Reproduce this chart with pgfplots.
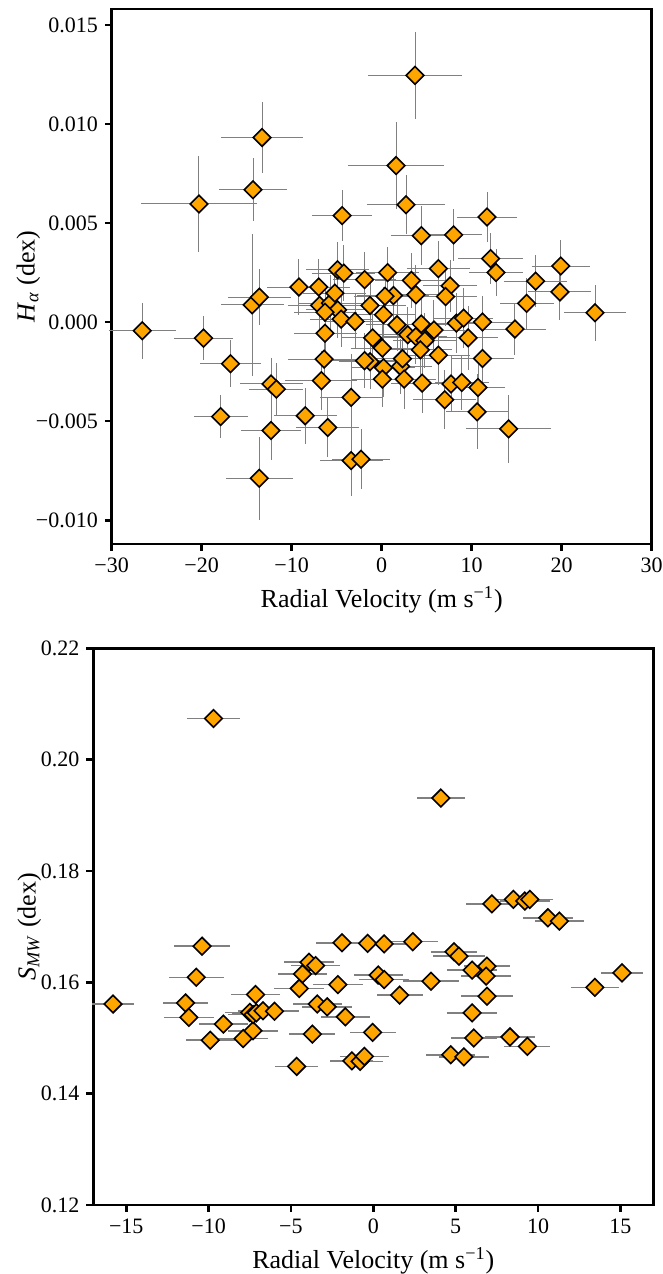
\documentclass[border=0pt]{standalone}
\usepackage{pgfplots}
\pgfplotsset{compat=1.18}
\usepackage{fontspec}
\setmainfont{Liberation Serif}
\definecolor{mkorange}{HTML}{FFA500}
\pgfplotstableread{
x y ex ey
-13.3 0.00931 4.6 0.0018
-14.3 0.00668 3.8 0.0016
-20.3 0.00596 6.4 0.0024
-4.4 0.00537 3.3 0.0013
3.7 0.01245 5.2 0.0022
1.6 0.0079 5.3 0.0022
2.7 0.00592 4.3 0.0015
4.4 0.00436 3.4 0.0015
8.0 0.0044 3.1 0.0013
11.7 0.0053 3.3 0.00125
12.1 0.0032 3.6 0.0013
12.7 0.0025 3.0 0.0012
19.9 0.00283 3.2 0.0013
17.1 0.00207 3.5 0.0013
0.66 0.0025 3.5 0.0013
3.3 0.0021 4.0 0.0014
6.3 0.0027 3.5 0.0014
19.8 0.00152 3.5 0.0014
16.1 0.00094 3.0 0.0013
23.7 0.00047 3.4 0.0014
7.6 0.00183 3.0 0.0013
7.1 0.00129 3.5 0.0015
3.8 0.00138 3.5 0.0015
1.3 0.00134 4.0 0.0014
0.37 0.0013 3.5 0.0013
-1.3 0.00084 4.0 0.0014
0.2 0.00037 3.5 0.0014
1.7 -0.00014 3.5 0.0013
4.4 -0.0001 3.5 0.0013
2.9 -0.00064 3.5 0.0014
3.8 -0.00073 3.5 0.0014
4.8 -0.00094 3.5 0.0014
4.3 -0.0014 3.5 0.0014
5.8 -0.0004 3.5 0.0015
8.3 -0.00005 3.0 0.0015
9.1 0.0002 3.3 0.0015
11.2 0.0 3.5 0.0013
14.8 -0.00035 3.5 0.0013
9.6 -0.0008 3.3 0.0016
11.2 -0.00184 3.5 0.0015
6.3 -0.00167 3.5 0.0015
-1.0 -0.0008 3.5 0.0014
0.07 -0.00131 3.5 0.0014
-1.3 -0.002 3.5 0.0014
0.2 -0.0023 3.5 0.0015
2.1 -0.00224 3.5 0.0014
2.3 -0.00185 3.5 0.0014
0.07 -0.00288 3.5 0.0014
2.5 -0.00288 3.5 0.0015
4.5 -0.00308 3.5 0.0015
7.7 -0.00312 3.5 0.0014
8.9 -0.00305 3.0 0.0014
10.7 -0.0033 3.0 0.0015
7.0 -0.00392 3.5 0.0015
10.6 -0.00453 3.5 0.0019
14.1 -0.00539 4.7 0.0017
-26.6 -0.00044 3.7 0.0014
-19.8 -0.00081 3.3 0.0011
-16.8 -0.0021 3.4 0.0012
-17.9 -0.00477 3.0 0.0011
-13.6 -0.00788 3.7 0.0021
-12.3 -0.00312 3.5 0.0013
-11.7 -0.00338 3.0 0.0013
-12.3 -0.00547 3.3 0.0015
-8.5 -0.00473 3.5 0.0014
-6.0 -0.00532 3.5 0.0015
-3.4 -0.0038 3.5 0.0022
-3.4 -0.00699 3.5 0.0018
-2.3 -0.00692 3.2 0.0015
-6.7 -0.00296 4.0 0.0015
-6.4 -0.00187 4.0 0.0013
-6.3 -0.00056 3.5 0.0014
-1.9 -0.00195 3.5 0.0014
-14.4 0.00087 3.5 0.0036
-13.6 0.00126 3.5 0.0014
-9.2 0.00177 3.5 0.0014
-7.0 0.00177 3.5 0.0014
-6.9 0.00084 3.5 0.0014
-5.7 0.00096 3.5 0.0014
-5.2 0.00146 3.5 0.0014
-4.9 0.00264 3.5 0.0014
-4.2 0.00247 3.5 0.0014
-1.9 0.00214 3.5 0.0014
-4.9 0.00062 3.5 0.0014
-4.5 0.00015 3.5 0.0014
-2.96 0.00003 3.5 0.0014
-6.3 0.0005 3.5 0.0014
}\tophalpha
\pgfplotstableread{
x y ex
-9.7 0.2074 1.6
4.1 0.1931 1.45
7.2 0.1741 1.6
8.5 0.1749 1.5
9.2 0.1746 1.5
9.5 0.1749 1.4
10.6 0.1716 1.5
11.3 0.1710 1.5
-10.4 0.1665 1.7
-10.75 0.1609 1.66
-15.8 0.1561 1.26
-11.4 0.1563 1.37
-11.2 0.1537 1.5
-9.1 0.1525 1.5
-9.9 0.1496 1.5
-7.9 0.1499 1.5
-7.3 0.1513 1.5
-7.15 0.1578 1.5
-7.5 0.1546 1.5
-7.3 0.1542 1.5
-7.1 0.1545 1.5
-6.7 0.1549 1.5
-6.0 0.1548 1.5
-4.65 0.1449 1.3
-4.5 0.1589 1.5
-4.3 0.1615 1.5
-3.9 0.1636 1.5
-3.5 0.1630 1.5
-3.7 0.1507 1.4
-3.4 0.1561 1.5
-2.8 0.1556 1.5
-2.15 0.1596 1.5
-1.7 0.1538 1.5
-1.9 0.1671 1.6
-0.34 0.1670 1.5
-0.04 0.1510 1.4
-1.3 0.1459 1.3
-0.8 0.1458 1.4
-0.54 0.1467 1.5
0.3 0.1613 1.5
0.66 0.1669 1.5
2.4 0.1673 1.5
4.9 0.1655 1.4
5.2 0.1647 1.6
0.66 0.1605 1.5
3.5 0.1602 1.7
1.6 0.1577 1.4
6.0 0.1622 1.5
6.9 0.1629 1.4
6.85 0.1611 1.5
6.9 0.1575 1.6
6.0 0.1545 1.5
6.1 0.1500 1.4
8.3 0.1502 1.5
9.35 0.1485 1.4
4.7 0.1470 1.5
5.5 0.1466 1.5
13.45 0.1591 1.46
15.1 0.1617 1.3
}\botsmw
\pgfplotsset{
  myaxis/.style={
    scale only axis,
    axis line style={line width=1.3pt},
    every tick/.style={line width=1.3pt, black},
    tick align=outside,
    major tick length=3.4pt,
    xtick pos=bottom, ytick pos=left,
    tick label style={font=\fontsize{11}{13}\selectfont},
    label style={font=\fontsize{13}{15}\selectfont},
    /pgf/number format/assume math mode=true,
    clip=false,
  },
  mymark/.style={
    only marks, mark=square*, mark size=3.1pt,
    mark options={rotate=45, fill=mkorange, draw=black, line width=0.8pt},
  },
}
\begin{document}
\begin{tikzpicture}
\useasboundingbox (0,0) rectangle (331.5pt,-637pt);
\begin{axis}[myaxis,
  at={(55.85pt,-272pt)}, anchor=south west,
  width=270pt, height=267.5pt,
  xmin=-30, xmax=30, ymin=-0.0112, ymax=0.0158,
  xtick={-30,-20,-10,0,10,20,30},
  xticklabels={−30,−20,−10,0,10,20,30},
  ytick={-0.010,-0.005,0,0.005,0.010,0.015},
  yticklabels={−0.010,−0.005,0.000,0.005,0.010,0.015},
  xlabel={Radial Velocity (m s\textsuperscript{−1})},
  ylabel={\textit{H}\textsubscript{\textit{α}} (dex)},
  ylabel shift=-9pt,
]
\addplot[mymark, error bars/.cd, x dir=both, x explicit, y dir=both, y explicit,
  error mark=none, error bar style={draw=gray, line width=0.5pt}]
  table[x=x, y=y, x error=ex, y error=ey]{\tophalpha};
\end{axis}
\begin{axis}[myaxis,
  at={(46.65pt,-602.5pt)}, anchor=south west,
  width=280pt, height=278.35pt,
  xmin=-17, xmax=17, ymin=0.12, ymax=0.22,
  xtick={-15,-10,-5,0,5,10,15},
  xticklabels={−15,−10,−5,0,5,10,15},
  ytick={0.12,0.14,0.16,0.18,0.20,0.22},
  yticklabels={0.12,0.14,0.16,0.18,0.20,0.22},
  xlabel={Radial Velocity (m s\textsuperscript{−1})},
  ylabel={\textit{S}\textsubscript{\textit{MW}} (dex)},
  ylabel shift=-7pt,
]
\addplot[mymark, error bars/.cd, x dir=both, x explicit,
  error mark=none, error bar style={draw=gray, line width=0.8pt}]
  table[x=x, y=y, x error=ex]{\botsmw};
\end{axis}
\end{tikzpicture}
\end{document}
